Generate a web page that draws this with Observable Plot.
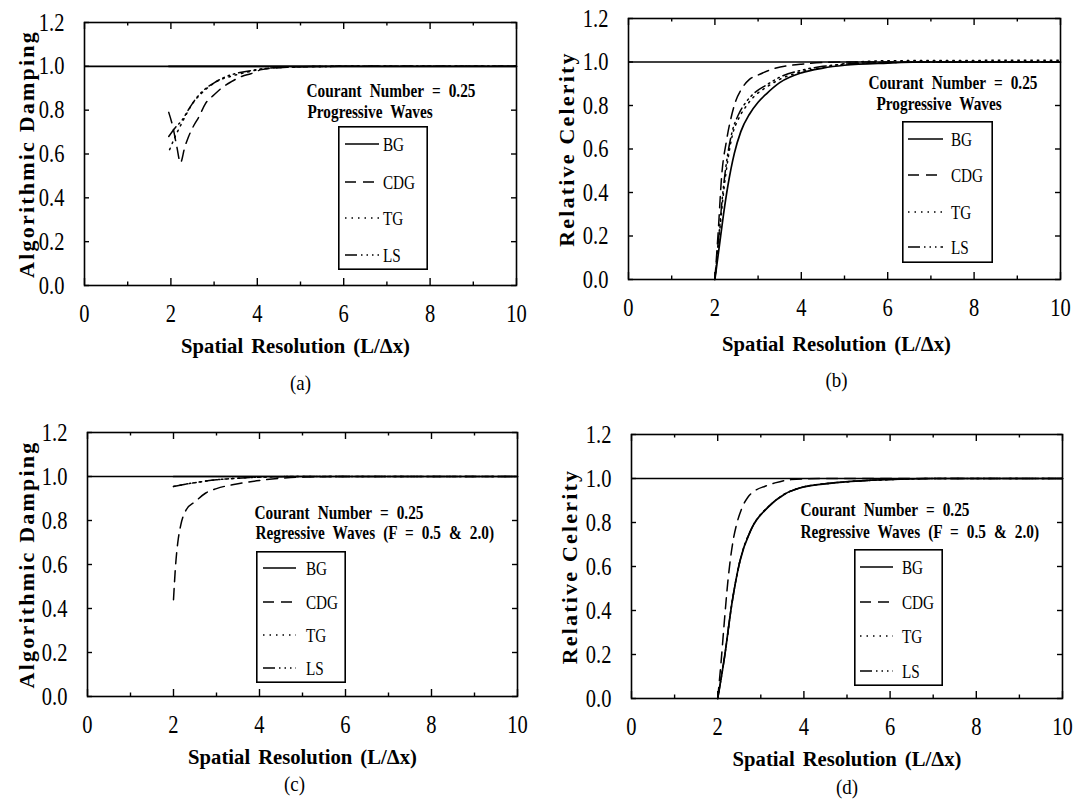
<!DOCTYPE html>
<html>
<head>
<meta charset="utf-8">
<script src="https://cdn.jsdelivr.net/npm/d3@7"></script>
<script src="https://cdn.jsdelivr.net/npm/@observablehq/plot@0.6"></script>
<style>
  html, body { margin: 0; padding: 0; background: #fff; }
  #wrap { position: relative; width: 1083px; height: 808px; background: #fff; overflow: hidden; }
  .panel { position: absolute; }
  .panel svg { display: block; }
</style>
</head>
<body>
<div id="wrap"></div>
<script>
// ---------- data ----------
const methods = ["BG", "CDG", "TG", "LS"];
const xMajor = [0, 2, 4, 6, 8, 10];
const xMinor = [1, 3, 5, 7, 9];
const yTicks = [0, 0.2, 0.4, 0.6, 0.8, 1.0, 1.2];
const xLabel = "Spatial Resolution (L/\u0394x)";
const labelDamping = "Algorithmic Damping";
const labelCelerity = "Relative Celerity";
const courant = "Courant Number = 0.25";
const progressive = "Progressive Waves";
const regressive = "Regressive Waves (F = 0.5 & 2.0)";

// (a) algorithmic damping, progressive waves
const dampProgBG  = [[1.95,1.0],[4.0,1.0],[6.0,1.0],[8.0,1.0],[10.0,1.0]];
const dampProgCDG = [[1.95,0.79],[2.05,0.72],[2.14,0.63],[2.22,0.56],[2.32,0.63],[2.41,0.68],[2.53,0.73],[2.65,0.77],[2.8,0.83],[3.0,0.87],[3.2,0.905],[3.4,0.93],[3.65,0.955],[3.85,0.966],[4.1,0.985],[4.5,0.993],[5.0,0.998],[6.0,1.0],[10.0,1.0]];
const dampProgTG  = [[1.97,0.62],[2.1,0.68],[2.25,0.74],[2.38,0.79],[2.5,0.83],[2.7,0.875],[2.9,0.91],[3.1,0.935],[3.4,0.955],[3.8,0.975],[4.2,0.99],[5.0,0.998],[6.0,1.0],[10.0,1.0]];
const dampProgLS  = [[1.95,0.68],[2.1,0.72],[2.26,0.755],[2.4,0.8],[2.55,0.845],[2.7,0.88],[3.0,0.925],[3.3,0.955],[3.6,0.972],[3.9,0.982],[4.3,0.992],[5.0,0.998],[6.0,1.0],[10.0,1.0]];

// (b) relative celerity, progressive waves
const celProgBG  = [[2.0,0.0],[2.1,0.15],[2.2,0.30],[2.3,0.43],[2.45,0.58],[2.6,0.68],[2.8,0.76],[3.0,0.815],[3.2,0.855],[3.5,0.905],[4.0,0.95],[4.5,0.972],[5.0,0.985],[6.0,0.995],[7.0,1.0],[10.0,1.0]];
const celProgCDG = [[2.0,0.0],[2.08,0.23],[2.15,0.46],[2.27,0.64],[2.37,0.74],[2.48,0.82],[2.6,0.87],[2.8,0.92],[3.0,0.94],[3.3,0.965],[4.0,0.99],[5.0,1.0],[10.0,1.0]];
const celProgTG  = [[2.0,0.0],[2.1,0.2],[2.2,0.4],[2.3,0.55],[2.4,0.66],[2.55,0.74],[2.7,0.79],[2.9,0.84],[3.2,0.885],[3.5,0.92],[4.0,0.955],[4.5,0.975],[5.0,0.992],[5.5,1.003],[6.0,1.006],[10.0,1.008]];
const celProgLS  = [[2.0,0.0],[2.1,0.22],[2.2,0.43],[2.3,0.58],[2.4,0.68],[2.55,0.76],[2.7,0.81],[2.9,0.855],[3.2,0.895],[3.5,0.93],[4.0,0.962],[4.5,0.98],[5.0,0.99],[6.0,0.998],[10.0,1.0]];

// (c) algorithmic damping, regressive waves
const dampRegBG  = [[2.0,1.0],[4.0,1.0],[6.0,1.0],[8.0,1.0],[10.0,1.0]];
const dampRegCDG = [[2.0,0.44],[2.05,0.6],[2.1,0.7],[2.17,0.78],[2.3,0.85],[2.5,0.885],[2.75,0.925],[3.0,0.945],[3.5,0.967],[4.0,0.982],[4.5,0.992],[5.0,0.998],[6.0,1.0],[10.0,1.0]];
const dampRegTG  = [[2.0,0.955],[2.5,0.972],[3.0,0.985],[3.5,0.992],[4.0,0.997],[5.0,1.0],[10.0,1.0]];
const dampRegLS  = [[2.0,0.955],[2.5,0.972],[3.0,0.985],[3.5,0.992],[4.0,0.997],[5.0,1.0],[10.0,1.0]];

// (d) relative celerity, regressive waves
const celRegBG  = [[2.0,0.0],[2.16,0.19],[2.32,0.42],[2.51,0.62],[2.78,0.77],[3.17,0.87],[3.56,0.93],[3.9,0.957],[4.6,0.978],[5.4,0.99],[6.25,0.997],[7.0,1.0],[10.0,1.0]];
const celRegCDG = [[2.0,0.0],[2.08,0.17],[2.15,0.34],[2.24,0.54],[2.36,0.72],[2.45,0.8],[2.55,0.86],[2.7,0.915],[2.86,0.944],[3.1,0.965],[3.33,0.98],[3.7,0.995],[4.5,1.0],[10.0,1.0]];
const celRegTG  = [[2.0,0.0],[2.16,0.19],[2.32,0.42],[2.51,0.62],[2.78,0.77],[3.17,0.87],[3.56,0.93],[3.9,0.957],[4.6,0.978],[5.4,0.99],[6.25,0.997],[7.0,1.0],[10.0,1.0]];
const celRegLS  = [[2.0,0.0],[2.16,0.19],[2.32,0.42],[2.51,0.62],[2.78,0.77],[3.17,0.87],[3.56,0.93],[3.9,0.957],[4.6,0.978],[5.4,0.99],[6.25,0.997],[7.0,1.0],[10.0,1.0]];

// ---------- styles ----------
const dash = { BG: null, CDG: "11,7", TG: "1.5,5", LS: "12,4,1.5,4,1.5,4,1.5,4" };
const FONT = '"Liberation Serif", "Times New Roman", serif';

const panels = [
  { left: 0, top: 0, width: 540, height: 400, margin: [22, 24, 115, 84],
    yLabel: labelDamping, caption: "(a)",
    series: { BG: dampProgBG, CDG: dampProgCDG, TG: dampProgTG, LS: dampProgLS },
    ann: [{ text: courant, dx: 222, dy: 69 }, { text: progressive, dx: 223, dy: 90 }],
    yTitleDx: -58, xTitleDx: -5, xTitleDy: 60, capDx: 0, capDy: 98,
    legend: { left: 338, top: 126, width: 90, height: 144, rows: [18, 56, 92, 129], x1: 7, x2: 41, tx: 45 } },
  { left: 540, top: 0, width: 543, height: 400, margin: [18, 23, 121, 88],
    yLabel: labelCelerity, caption: "(b)",
    series: { BG: celProgBG, CDG: celProgCDG, TG: celProgTG, LS: celProgLS },
    ann: [{ text: courant, dx: 240, dy: 65 }, { text: progressive, dx: 248, dy: 86 }],
    yTitleDx: -62, xTitleDx: -8, xTitleDy: 64, capDx: -8, capDy: 101,
    legend: { left: 362, top: 121, width: 91, height: 142, rows: [18, 54, 91, 126], x1: 6, x2: 41, tx: 49 } },
  { left: 0, top: 400, width: 540, height: 408, margin: [32, 23, 112, 87],
    yLabel: labelDamping, caption: "(c)",
    series: { BG: dampRegBG, CDG: dampRegCDG, TG: dampRegTG, LS: dampRegLS },
    ann: [{ text: courant, dx: 167, dy: 81 }, { text: regressive, dx: 168, dy: 101 }],
    yTitleDx: -61, xTitleDx: 0, xTitleDy: 60, capDx: -8, capDy: 88,
    legend: { left: 256, top: 151, width: 90, height: 132, rows: [17, 51, 84, 117], x1: 7, x2: 40, tx: 50 } },
  { left: 540, top: 400, width: 543, height: 408, margin: [34, 21, 110, 91],
    yLabel: labelCelerity, caption: "(d)",
    series: { BG: celRegBG, CDG: celRegCDG, TG: celRegTG, LS: celRegLS },
    ann: [{ text: courant, dx: 169, dy: 76 }, { text: regressive, dx: 169, dy: 98 }],
    yTitleDx: -62, xTitleDx: 0, xTitleDy: 60, capDx: 0, capDy: 89,
    legend: { left: 314, top: 149, width: 89, height: 137, rows: [18, 53, 87, 122], x1: 6, x2: 39, tx: 48 } }
];

function lineOpts(m) {
  const o = { x: "x", y: "y", stroke: "#000", strokeWidth: m === "BG" ? 1.7 : 1.5, curve: "monotone-x" };
  if (dash[m]) o.strokeDasharray = dash[m];
  return o;
}

// horizontally condense a text element about its anchor (the reference face is a narrow Times)
function condense(el, s) {
  const x = parseFloat(el.getAttribute("x") || "0") || 0;
  const t = el.getAttribute("transform") || "";
  el.setAttribute("transform", `${t} translate(${x},0) scale(${s},1) translate(${-x},0)`);
}

function makePanel(p) {
  const [mt, mr, mb, ml] = p.margin;
  const fw = p.width - ml - mr, fh = p.height - mt - mb;
  const rows = methods.flatMap(m => p.series[m].map(([x, y]) => ({ method: m, x, y })));
  const svg = Plot.plot({
    width: p.width, height: p.height,
    marginTop: mt, marginRight: mr, marginBottom: mb, marginLeft: ml,
    x: { domain: [0, 10] },
    y: { domain: [0, 1.2] },
    style: { fontFamily: FONT, background: "transparent", color: "#000", overflow: "visible" },
    marks: [
      Plot.ruleY([1], { stroke: "#000", strokeWidth: 1.6 }),
      ...methods.map(m => Plot.line(rows.filter(d => d.method === m), lineOpts(m))),
      Plot.frame({ stroke: "#000", strokeWidth: 1.6 }),
      Plot.tickX(xMajor, { insetTop: fh - 7, stroke: "#000", strokeWidth: 1.4 }),
      Plot.tickX(xMajor, { insetBottom: fh - 7, stroke: "#000", strokeWidth: 1.4 }),
      Plot.tickX(xMinor, { insetTop: fh - 3.5, stroke: "#000", strokeWidth: 1.4 }),
      Plot.tickX(xMinor, { insetBottom: fh - 3.5, stroke: "#000", strokeWidth: 1.4 }),
      Plot.tickY(yTicks, { insetRight: fw - 5, stroke: "#000", strokeWidth: 1.4 }),
      Plot.tickY(yTicks, { insetLeft: fw - 5, stroke: "#000", strokeWidth: 1.4 }),
      Plot.axisX(xMajor, { tickSize: 0, tickPadding: 19, fontSize: 25, label: null }),
      Plot.axisY(yTicks, { tickSize: 0, tickPadding: 20, fontSize: 25, label: null, tickFormat: d => d.toFixed(1) }),
      Plot.text([p.yLabel], { text: d => d, frameAnchor: "left", dx: p.yTitleDx, rotate: -90,
        fontSize: 22, fontWeight: "bold", textAnchor: "middle", lineAnchor: "middle" }),
      Plot.text([xLabel], { text: d => d, frameAnchor: "bottom", dx: p.xTitleDx, dy: p.xTitleDy,
        fontSize: 22, fontWeight: "bold", lineAnchor: "middle" }),
      Plot.text([p.caption], { text: d => d, frameAnchor: "bottom", dx: p.capDx, dy: p.capDy,
        fontSize: 21, lineAnchor: "middle" }),
      ...p.ann.map(a => Plot.text([a.text], { text: d => d, frameAnchor: "top-left", dx: a.dx, dy: a.dy,
        textAnchor: "start", lineAnchor: "middle", fontSize: 18, fontWeight: "bold" }))
    ]
  });
  const annTexts = p.ann.map(a => a.text);
  d3.select(svg).selectAll("text").each(function () {
    const s = this.textContent;
    if (s === p.yLabel) {
      this.setAttribute("letter-spacing", "2.2px");
    } else if (s === xLabel) {
      this.setAttribute("word-spacing", "3px");
      condense(this, 0.94);
    } else if (annTexts.includes(s)) {
      this.setAttribute("word-spacing", "5px");
      condense(this, 0.85);
    } else if (s === p.caption) {
      condense(this, 0.9);
    } else {
      condense(this, 0.82); // tick labels
    }
  });
  return svg;
}

function makeLegend(L) {
  const svg = d3.create("svg")
    .attr("width", L.width).attr("height", L.height)
    .style("position", "absolute").style("left", L.left + "px").style("top", L.top + "px");
  svg.append("rect").attr("x", 0.8).attr("y", 0.8)
    .attr("width", L.width - 1.6).attr("height", L.height - 1.6)
    .attr("fill", "#fff").attr("stroke", "#000").attr("stroke-width", 1.6);
  methods.forEach((m, i) => {
    const y = L.rows[i];
    const ln = svg.append("line").attr("x1", L.x1).attr("x2", L.x2).attr("y1", y).attr("y2", y)
      .attr("stroke", "#000").attr("stroke-width", 1.4);
    if (dash[m]) ln.attr("stroke-dasharray", dash[m]);
    const t = svg.append("text").attr("x", L.tx).attr("y", y).attr("dy", "0.35em")
      .attr("font-family", FONT).attr("font-size", 19).attr("fill", "#000").text(m);
    condense(t.node(), 0.8);
  });
  return svg.node();
}

const wrap = document.getElementById("wrap");
for (const p of panels) {
  const div = document.createElement("div");
  div.className = "panel";
  div.style.left = p.left + "px";
  div.style.top = p.top + "px";
  div.style.width = p.width + "px";
  div.style.height = p.height + "px";
  div.appendChild(makePanel(p));
  div.appendChild(makeLegend(p.legend));
  wrap.appendChild(div);
}
</script>
</body>
</html>
